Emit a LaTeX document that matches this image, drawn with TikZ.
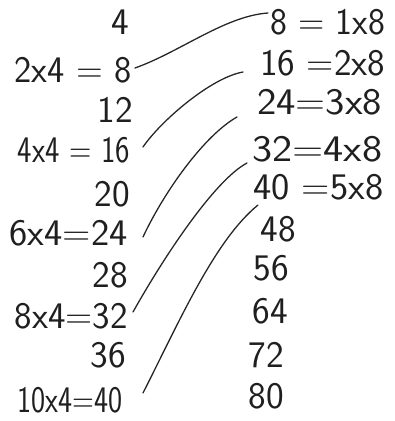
\documentclass[tikz,border=0pt]{standalone}
\usepackage{graphicx}
\usetikzlibrary{calc}
\newcommand{\hwfit}[2]{\resizebox{#1cm}{\height}{#2}}
\begin{document}
\begin{tikzpicture}[x=0.03cm,y=-0.03cm,
  hw/.style={font=\fontsize{32}{32}\sffamily\selectfont, inner sep=0pt, text=black!88},
  link/.style={draw=black!85, line width=1.1pt, line cap=round}]
\useasboundingbox (0,0) rectangle (395,421);
% left column
\node[hw] (n4) at (120,22) {4};
\node[hw, anchor=east] (l1) at (132,70) {\hwfit{3.51}{2x4 = 8}};
\node[hw] (n12) at (115,110) {12};
\node[hw, anchor=east] (l2) at (130,150) {\hwfit{3.36}{4x4 = 16}};
\node[hw] (n20) at (112,194) {20};
\node[hw, anchor=east] (l3) at (128,233) {\hwfit{3.54}{6x4=24}};
\node[hw] (n28) at (110,275) {28};
\node[hw, anchor=east] (l4) at (128,316) {\hwfit{3.39}{8x4=32}};
\node[hw] (n36) at (108,355) {36};
\node[hw, anchor=east] (l5) at (123,400) {\hwfit{3.15}{10x4=40}};
% right column
\node[hw, anchor=west] (r1) at (270,22) {\hwfit{3.45}{8 = 1x8}};
\node[hw, anchor=west] (r2) at (260,63) {\hwfit{3.75}{16 =2x8}};
\node[hw, anchor=west] (r3) at (257,102) {\hwfit{3.75}{24=3x8}};
\node[hw, anchor=west] (r4) at (252,149) {\hwfit{3.9}{32=4x8}};
\node[hw, anchor=west] (r5) at (253,187) {\hwfit{3.9}{40 =5x8}};
\node[hw] (n48) at (278,229) {48};
\node[hw] (n56) at (271,268) {56};
\node[hw] (n64) at (270,311) {64};
\node[hw] (n72) at (266,355) {72};
\node[hw] (n80) at (266,396) {80};
% connectors
\draw[link] ($(l1.east)+(3,-2)$) .. controls (180,52) and (225,16) .. ($(r1.west)+(-2,-9)$);
\draw[link] ($(l2.east)+(13,-3)$) .. controls (160,122) and (210,78) .. ($(r2.west)+(-17,9)$);
\draw[link] ($(l3.east)+(15,4)$) .. controls (165,190) and (205,135) .. ($(r3.west)+(-20,15)$);
\draw[link] ($(l4.east)+(5,-4)$) .. controls (165,255) and (215,180) .. ($(r4.west)+(-5,14)$);
\draw[link] ($(l5.east)+(20,-7)$) .. controls (180,320) and (215,240) .. ($(r5.west)+(5,18)$);
\end{tikzpicture}
\end{document}
